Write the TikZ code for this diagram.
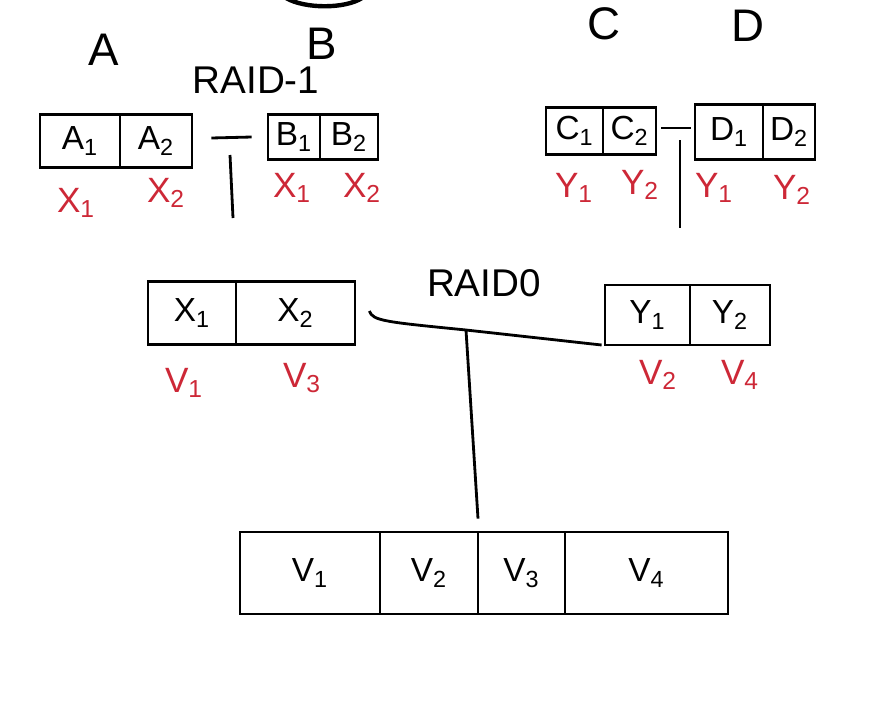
\documentclass[tikz,border=0pt]{standalone}
\usepackage{fontspec}
\setmainfont{Liberation Sans}
\usepackage{xcolor}
\usetikzlibrary{positioning, calc}
\definecolor{penred}{RGB}{205,40,55}

\begin{document}
\begin{tikzpicture}[
    x=0.02cm, y=-0.02cm,
    cell/.style={draw, line width=1.6pt, inner sep=0pt, font=\fontsize{19}{22}\selectfont},
    disk/.style={font=\fontsize{26}{28}\selectfont},
    tag/.style={text=penred, font=\fontsize{20}{24}\selectfont},
    wire/.style={line width=1.6pt},
]
    \useasboundingbox (0,0) rectangle (872,704);
    \draw[line width=2.5pt] (286,-2) .. controls (305,9) and (345,9) .. (362,-2);

    % disks
    \node[disk] (da) at (104,50) {A};
    \node[disk] (db) at (322,44) {B};
    \node[disk] (dc) at (604,24) {C};
    \node[disk] (dd) at (748,26) {D};
    \node[font=\fontsize{22}{26}\selectfont] (raid1) at (256,80) {RAID-1};

    % RAID-1 pairs
    \node[cell, minimum width=1.6cm, minimum height=1.06cm] (a1) at (80,141) {A\textsubscript{1}};
    \node[cell, minimum width=1.44cm, minimum height=1.06cm] (a2) at (156,141) {A\textsubscript{2}};
    \node[cell, minimum width=1.04cm, minimum height=0.9cm] (b1) at (294,137) {B\textsubscript{1}};
    \node[cell, minimum width=1.16cm, minimum height=0.9cm] (b2) at (349,137) {B\textsubscript{2}};
    \node[cell, minimum width=1.14cm, minimum height=0.94cm] (c1) at (574.5,131) {C\textsubscript{1}};
    \node[cell, minimum width=1.06cm, minimum height=0.94cm] (c2) at (629.5,131) {C\textsubscript{2}};
    \node[cell, minimum width=1.36cm, minimum height=1.1cm] (d1) at (729,132) {D\textsubscript{1}};
    \node[cell, minimum width=1.04cm, minimum height=1.1cm] (d2) at (789,132) {D\textsubscript{2}};

    \node[tag] (ta1) at (76,203) {X\textsubscript{1}};
    \node[tag] (ta2) at (166,193) {X\textsubscript{2}};
    \node[tag] (tb1) at (292,188) {X\textsubscript{1}};
    \node[tag] (tb2) at (362,188) {X\textsubscript{2}};
    \node[tag] (tc1) at (574,188) {Y\textsubscript{1}};
    \node[tag] (tc2) at (640,185) {Y\textsubscript{2}};
    \node[tag] (td1) at (714,188) {Y\textsubscript{1}};
    \node[tag] (td2) at (792,190) {Y\textsubscript{2}};

    \coordinate (ab) at (230,155);
    \coordinate (abdown) at (233,218);
    \draw[wire] ($(a2.east)+(18,-3)$) -- ($(b1.west)+(-15,0)$);
    \draw[wire] (ab) -- (abdown);
    \coordinate (cd) at (680,140);
    \coordinate (cddown) at (680,228);
    \draw[wire] ($(c2.east)+(4,-3)$) -- ($(d1.west)+(-3,-4)$);
    \draw[wire] (cd) -- (cddown);

    % RAID 0 stripes
    \node[font=\fontsize{22}{26}\selectfont] (raid0) at (484,283) {RAID0};
    \node[cell, minimum width=1.76cm, minimum height=1.26cm] (x1) at (192,313) {X\textsubscript{1}};
    \node[cell, minimum width=2.38cm, minimum height=1.26cm] (x2) at (295.5,313) {X\textsubscript{2}};
    \node[cell, minimum width=1.7cm, minimum height=1.2cm] (y1) at (647.5,315) {Y\textsubscript{1}};
    \node[cell, minimum width=1.6cm, minimum height=1.2cm] (y2) at (730,315) {Y\textsubscript{2}};

    \node[tag] (tx1) at (184,383) {V\textsubscript{1}};
    \node[tag] (tx2) at (302,378) {V\textsubscript{3}};
    \node[tag] (ty1) at (658,375) {V\textsubscript{2}};
    \node[tag] (ty2) at (740,375) {V\textsubscript{4}};

    \coordinate (r0) at (466,330);
    \draw[wire] ($(x2.east)+(13,-2)$) .. controls ($(x2.east)+(16,8)$) and ($(x2.east)+(30,9)$) .. (r0) -- ($(y1.west)+(-2,30)$);

    % volume
    \node[cell, minimum width=2.8cm, minimum height=1.64cm] (v1) at (310,573) {V\textsubscript{1}};
    \node[cell, minimum width=1.96cm, minimum height=1.64cm] (v2) at (429,573) {V\textsubscript{2}};
    \node[cell, minimum width=1.74cm, minimum height=1.64cm] (v3) at (521.5,573) {V\textsubscript{3}};
    \node[cell, minimum width=3.26cm, minimum height=1.64cm] (v4) at (646.5,573) {V\textsubscript{4}};

    \draw[wire] (r0) -- ($(r0 |- v3.north)+(12,-12)$);
\end{tikzpicture}
\end{document}
